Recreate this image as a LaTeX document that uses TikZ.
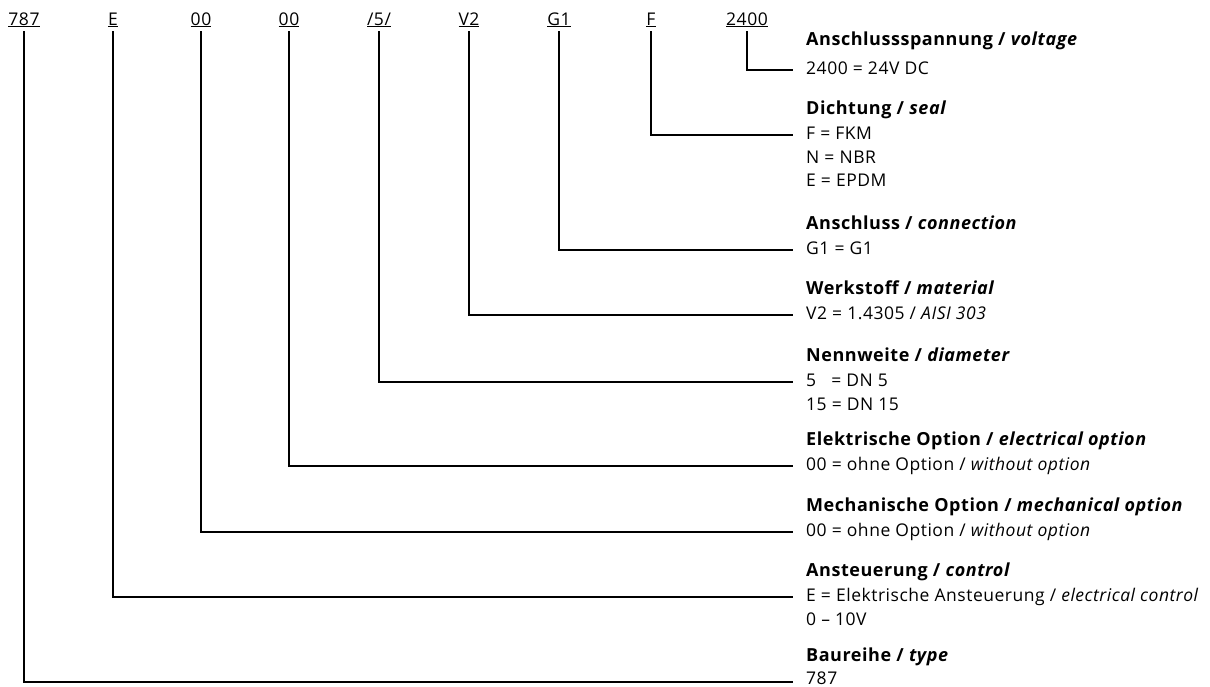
\documentclass[tikz,border=0pt]{standalone}
\usepackage{fontspec}
\setmainfont{Open Sans}[LetterSpace=3]
\newcommand{\txtsize}{\fontsize{17.5}{23.5}\selectfont}
\newcommand{\headsize}{\fontsize{18}{23.5}\selectfont}
\begin{document}
\begin{tikzpicture}[x=1pt, y=-1pt,
  code/.style={anchor=base, inner sep=0pt, outer sep=4pt, font=\txtsize},
  head/.style={anchor=base west, inner sep=0pt, font=\headsize\bfseries},
  val/.style={anchor=base west, inner sep=0pt, align=left, font=\txtsize},
  lead/.style={line width=1.2pt}]
\useasboundingbox (0,0) rectangle (1210,686);

% Typenschluessel
\node[code] (kTyp)  at (24,25)  {\underline{787}};
\node[code] (kCtl)  at (113,25) {\underline{E}};
\node[code] (kMech) at (201,25) {\underline{00}};
\node[code] (kElec) at (289,25) {\underline{00}};
\node[code] (kDN)   at (379,25) {\underline{/5/}};
\node[code] (kMat)  at (469,25) {\underline{V2}};
\node[code] (kCon)  at (559,25) {\underline{G1}};
\node[code] (kSeal) at (651,25) {\underline{F}};
\node[code] (kVolt) at (747,25) {\underline{2400}};

% Enden der Fuehrungslinien
\coordinate (eVolt) at (793,70);
\coordinate (eSeal) at (793,135);
\coordinate (eCon)  at (793,250);
\coordinate (eMat)  at (793,315);
\coordinate (eDN)   at (793,382);
\coordinate (eElec) at (793,466);
\coordinate (eMech) at (793,532);
\coordinate (eCtl)  at (793,597);
\coordinate (eTyp)  at (793,682);

% Beschreibungen (Basislinie der letzten Zeile)
\node[head] (hVolt) at (806,45)  {Anschlussspannung / \textit{voltage}};
\node[val]  (vVolt) at (806,74)  {2400 = 24V DC};

\node[head] (hSeal) at (806,114) {Dichtung / \textit{seal}};
\node[val]  (vSeal) at (806,186.5) {F = FKM\\N = NBR\\E = EPDM};

\node[head] (hCon)  at (806,229) {Anschluss / \textit{connection}};
\node[val]  (vCon)  at (806,254.5) {G1 = G1};

\node[head] (hMat)  at (806,294) {Werkstoff / \textit{material}};
\node[val]  (vMat)  at (806,319.5) {V2 = 1.4305 / \textit{AISI 303}};

\node[head] (hDN)   at (806,361) {Nennweite / \textit{diameter}};
\node[val]  (vDN)   at (806,410) {5\phantom{5} = DN 5\\15 = DN 15};

\node[head] (hElec) at (806,445) {Elektrische Option / \textit{electrical option}};
\node[val]  (vElec) at (806,470.5) {00 = ohne Option / \textit{without option}};

\node[head] (hMech) at (806,511) {Mechanische Option / \textit{mechanical option}};
\node[val]  (vMech) at (806,536.5) {00 = ohne Option / \textit{without option}};

\node[head] (hCtl)  at (806,576) {Ansteuerung / \textit{control}};
\node[val]  (vCtl)  at (806,625) {E = Elektrische Ansteuerung / \textit{electrical control}\\0 -- 10V};

\node[head] (hTyp)  at (806,661) {Baureihe / \textit{type}};
\node[val]  (vTyp)  at (806,684) {787};

% Fuehrungslinien
\draw[lead] (kVolt.south) |- (eVolt);
\draw[lead] (kSeal.south) |- (eSeal);
\draw[lead] (kCon.south)  |- (eCon);
\draw[lead] (kMat.south)  |- (eMat);
\draw[lead] (kDN.south)   |- (eDN);
\draw[lead] (kElec.south) |- (eElec);
\draw[lead] (kMech.south) |- (eMech);
\draw[lead] (kCtl.south)  |- (eCtl);
\draw[lead] (kTyp.south)  |- (eTyp);

\end{tikzpicture}
\end{document}
